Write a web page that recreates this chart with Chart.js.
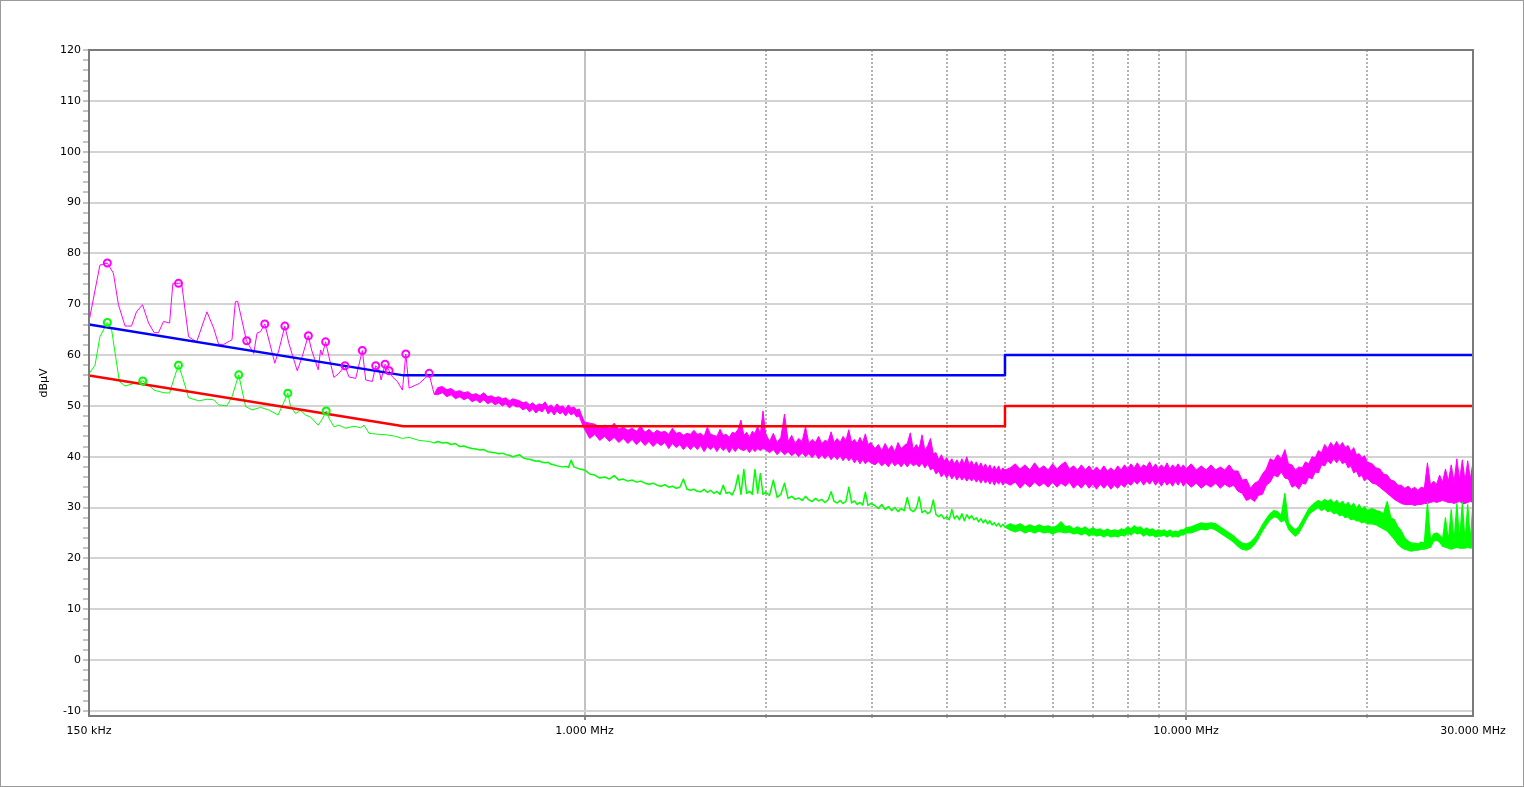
<!DOCTYPE html>
<html><head><meta charset="utf-8">
<script src="https://cdn.jsdelivr.net/npm/chart.js@4/dist/chart.umd.min.js"></script>
<style>
html,body{margin:0;padding:0;background:#fff;}
canvas{display:block;}
</style></head><body>
<canvas id="c" width="1524" height="787"></canvas>
<script>
// ---- axis ticks ----
const xTickValues = [0.15, 1, 2, 3, 4, 5, 6, 7, 8, 9, 10, 20, 30];
const xTickLabels = {'0.15':'150 kHz', '1':'1.000 MHz', '10':'10.000 MHz', '30':'30.000 MHz'};
const xMajorLines = [1, 10];
const yLabelTicks = [-10, 0, 10, 20, 30, 40, 50, 60, 70, 80, 90, 100, 110, 120];
const yMinorStep = 2;

// ---- limit lines (MHz, dBuV) ----
const limitQPFreq = [0.15, 0.5, 5, 5, 30];
const limitQPLevel = [66, 56, 56, 60, 60];
const limitAVFreq = [0.15, 0.5, 5, 5, 30];
const limitAVLevel = [56, 46, 46, 50, 50];

// ---- peak trace, low-frequency part ----
const lowPeakFreq = [0.150,0.1564,0.1609,0.1647,0.1679,0.1722,0.1765,0.1799,0.1841,0.1884,0.1925,0.1957,0.1995,0.2042,0.2068,0.2113,0.2138,0.2196,0.2265,0.2356,0.2417,0.2464,0.2512,0.2593,0.2627,0.2650,0.2741,0.2818,0.2854,0.2892,0.2940,0.2967,0.3055,0.3103,0.3175,0.3224,0.3329,0.3393,0.3472,0.3517,0.3607,0.3640,0.3663,0.3711,0.3758,0.3831,0.3905,0.3996,0.4058,0.4164,0.4271,0.4327,0.4438,0.4496,0.4553,0.4589,0.4660,0.4732,0.4793,0.4885,0.4980,0.5045,0.5109,0.5309,0.5412,0.5517,0.5623];
const lowPeak = [66.6,77.7,78.1,76.1,69.9,65.7,65.7,68.5,69.9,66.3,64.4,64.4,66.6,66.3,74.1,74.1,74.2,63.6,62.6,68.5,65.3,62.1,62.1,63.0,70.5,70.6,62.8,60.3,64.3,64.6,66.1,64.3,58.4,61.0,65.7,62.3,56.9,59.7,63.8,61.0,57.1,61.0,60.0,62.6,59.7,55.6,56.4,57.9,55.7,55.4,60.9,55.1,54.8,57.9,57.1,55.1,58.2,56.9,55.7,54.8,53.1,60.2,53.5,54.4,55.3,56.2,52.3];

// ---- average trace, low-frequency part ----
const lowAvgFreq = [0.150,0.1535,0.1564,0.1609,0.1636,0.1685,0.1722,0.1768,0.1843,0.1884,0.1925,0.1995,0.2042,0.2073,0.2113,0.2149,0.2196,0.2282,0.2356,0.2417,0.2464,0.2543,0.2593,0.2661,0.2731,0.2800,0.2892,0.2985,0.3093,0.3141,0.3211,0.3245,0.3307,0.3371,0.3437,0.3503,0.3607,0.3673,0.3719,0.3758,0.3831,0.3905,0.4007,0.4137,0.4244,0.4299,0.4382,0.4553,0.4693,0.4856,0.4980,0.5109,0.5309,0.5517,0.5623];
const lowAvg = [56.3,58.0,63.6,66.4,64.9,54.8,53.9,54.3,54.9,54.1,53.1,52.6,52.5,55.1,58.0,55.4,51.6,51.0,51.3,51.2,50.2,50.0,51.8,56.1,49.9,49.2,49.7,49.2,48.2,49.9,52.5,49.9,48.5,49.1,48.2,47.8,46.2,47.6,49.0,47.6,45.9,46.2,45.6,46.0,45.7,46.2,44.6,44.4,44.3,44.0,43.6,43.8,43.2,43.0,42.7];

// ---- dense scan frequencies (MHz) ----
const scanFreqA = [0.57,0.58,0.59,0.60,0.61,0.62,0.63,0.64,0.65,0.66,0.67,0.68,0.69,0.70,0.71,0.72,0.73,0.74,0.75,0.76,0.77,0.78,0.79,0.80,0.81,0.82,0.83,0.84,0.85,0.86,0.87,0.88,0.89,0.90,0.91,0.92,0.93,0.94,0.95,0.96,0.97,0.98,0.99,1.00];
const scanFreqB = [1.02,1.04,1.06,1.08,1.10,1.12,1.14,1.16,1.18,1.20,1.22,1.24,1.26,1.28,1.30,1.32,1.34,1.36,1.38,1.40,1.42,1.44,1.46,1.48,1.50,1.52,1.54,1.56,1.58,1.60,1.62,1.64,1.66,1.68,1.70,1.72,1.74,1.76,1.78,1.80,1.82,1.84,1.86,1.88,1.90,1.92,1.94,1.96,1.98,2.00];
const scanFreqC = [2.03,2.06,2.09,2.12,2.15,2.18,2.21,2.24,2.27,2.30,2.33,2.36,2.39,2.42,2.45,2.48,2.51,2.54,2.57,2.60,2.63,2.66,2.69,2.72,2.75,2.78,2.81,2.84,2.87,2.90,2.93,2.96,2.99];
const scanFreqD = [3.04,3.08,3.12,3.16,3.20,3.24,3.28,3.32,3.36,3.40,3.44,3.48,3.52,3.56,3.60,3.64,3.68,3.72,3.76,3.80,3.84,3.88,3.92,3.96,4.00,4.04,4.08,4.12,4.16,4.20,4.24,4.28,4.32,4.36,4.40,4.44,4.48,4.52,4.56,4.60,4.64,4.68,4.72,4.76,4.80,4.84,4.88,4.92,4.96,5.00];
const scanFreqE = [5.1,5.2,5.3,5.4,5.5,5.6,5.7,5.8,5.9,6.0,6.1,6.2,6.3,6.4,6.5,6.6,6.7,6.8,6.9,7.0,7.1,7.2,7.3,7.4,7.5,7.6,7.7,7.8,7.9,8.0,8.1,8.2,8.3,8.4,8.5,8.6,8.7,8.8,8.9,9.0,9.1,9.2,9.3,9.4,9.5,9.6,9.7,9.8,9.9,10.0];
const scanFreqF = [10.2,10.4,10.6,10.8,11.0,11.2,11.4,11.6,11.8,12.0,12.2,12.4,12.6,12.8,13.0,13.2,13.4,13.6,13.8,14.0,14.2,14.4,14.6,14.8,15.0,15.2,15.4,15.6,15.8,16.0,16.2,16.4,16.6,16.8,17.0,17.2,17.4,17.6,17.8,18.0,18.2,18.4,18.6,18.8,19.0,19.2,19.4,19.6,19.8,20.0];
const scanFreqG = [20.4,20.7,21.0,21.3,21.6,21.9,22.2,22.5,22.8,23.1,23.4,23.7,24.0,24.3,24.6,24.9,25.2,25.5,25.8,26.1,26.4,26.7,27.0,27.3,27.6,27.9,28.2,28.5,28.8,29.1,29.4,29.7,30.0];

// ---- peak detector, dense part: upper / lower envelope (dBuV) ----
const peakHiA = [53.6,53.8,53.2,53.4,52.8,53.0,52.6,52.8,52.2,52.4,52.0,52.6,51.8,52.0,51.6,51.8,51.4,51.6,51.0,51.4,51.2,51.0,50.6,50.8,50.2,50.6,50.0,50.4,50.2,50.8,49.8,50.2,49.6,50.4,49.8,50.0,49.4,50.2,49.6,49.8,49.2,49.4,48.0,46.8];
const peakLoA = [52.2,52.6,51.8,52.2,51.4,51.8,51.2,51.6,50.8,51.2,50.6,51.2,50.4,50.8,50.2,50.6,50.0,50.4,49.6,50.2,49.8,49.8,49.2,49.6,48.8,49.4,48.6,49.2,48.8,49.6,48.4,49.0,48.2,49.0,48.4,48.8,48.0,48.8,48.2,48.6,47.8,48.0,46.6,45.4];
const peakHiB = [46.6,46.4,45.8,46.2,45.6,46.6,45.4,45.8,45.2,45.6,45.0,46.0,44.8,45.4,44.6,45.2,44.8,45.0,44.4,45.6,44.6,44.8,44.2,44.6,44.4,45.2,44.4,44.6,44.0,45.8,44.4,44.2,44.0,45.4,44.2,44.4,43.8,44.8,44.6,45.4,47.2,44.2,44.8,43.8,45.0,44.6,46.0,44.4,49.0,44.6];
const peakLoB = [43.6,44.4,43.2,44.0,43.0,43.8,42.8,43.6,42.6,43.4,42.4,43.2,42.2,43.0,42.0,42.8,42.2,42.8,41.6,42.6,41.8,42.4,41.4,42.2,41.4,42.2,41.4,42.2,41.0,42.0,41.4,42.0,41.0,42.0,41.2,41.8,40.8,41.8,41.0,41.8,41.4,41.2,41.6,40.8,41.6,41.0,41.6,41.2,41.6,41.4];
const peakHiC = [43.0,44.6,42.8,43.8,48.4,43.0,44.2,42.6,43.6,43.0,45.9,42.6,43.4,42.8,44.0,42.6,43.2,43.0,44.9,42.8,43.6,42.8,44.0,43.2,45.3,42.8,43.4,42.6,43.8,42.8,44.5,42.4,42.8];
const peakLoC = [40.8,41.4,40.4,41.2,40.4,41.0,40.2,40.8,40.0,40.8,40.0,40.6,39.8,40.6,39.6,40.4,39.6,40.4,39.4,40.2,39.4,40.2,39.2,40.0,39.2,39.8,38.8,39.6,38.6,39.4,38.6,39.2,38.8];
const peakHiD = [41.6,42.4,41.2,42.6,41.4,42.2,41.0,42.8,41.6,42.2,42.6,44.7,41.4,42.4,41.6,44.3,41.2,42.2,43.6,40.6,40.8,39.4,40.4,39.2,39.8,38.8,39.6,38.6,39.4,38.4,39.6,38.6,40.0,38.4,39.2,38.2,39.0,38.0,38.8,37.8,38.6,37.6,38.4,37.4,38.2,37.4,38.2,37.2,37.8,37.4];
const peakLoD = [38.4,39.0,38.2,38.8,38.0,39.0,38.2,38.8,38.0,38.8,38.0,38.8,38.2,38.6,38.0,38.8,37.8,38.6,37.4,37.8,36.6,37.2,36.0,36.8,35.8,36.6,35.6,36.4,35.4,36.2,35.4,36.0,35.2,35.8,35.2,35.8,35.0,35.6,34.8,35.6,34.8,35.4,34.6,35.4,34.4,35.2,34.6,35.2,34.4,35.0];
const peakHiE = [37.8,38.6,37.6,38.4,37.4,38.8,37.6,38.2,37.4,38.6,37.6,38.4,39.0,37.6,38.2,37.4,38.4,37.4,38.2,37.2,38.0,37.2,38.2,37.2,37.8,37.2,38.2,37.4,38.4,37.6,38.6,37.8,38.8,37.8,38.4,38.0,39.0,37.8,38.6,37.6,38.4,37.8,38.8,37.6,38.4,37.8,38.6,37.8,38.4,37.6];
const peakLoE = [34.4,35.0,33.8,34.8,34.0,35.0,34.2,34.8,34.0,35.0,34.0,34.8,34.2,35.0,33.8,34.6,33.8,34.8,33.8,34.6,33.6,34.6,33.8,34.6,33.6,34.4,33.8,34.6,34.0,34.8,34.4,35.2,34.6,35.4,34.4,35.2,34.6,35.4,34.4,35.2,34.2,35.2,34.4,35.0,34.2,35.2,34.4,35.2,34.2,35.0];
const peakHiF = [38.6,37.4,38.2,37.4,38.4,37.4,38.0,37.4,38.4,37.2,37.2,35.4,35.6,33.8,34.8,35.2,36.6,37.6,39.6,39.2,40.4,39.6,41.4,38.6,38.4,37.4,38.0,37.8,39.0,38.6,40.0,39.8,41.2,40.8,42.4,41.6,42.8,42.0,43.0,42.0,42.8,41.8,42.2,41.0,41.8,40.4,40.6,39.8,40.2,39.0];
const peakLoF = [34.0,34.8,33.8,34.6,34.0,34.8,33.8,34.6,34.0,34.4,33.2,32.8,31.4,31.8,31.2,32.4,32.6,34.4,35.0,36.4,36.0,37.0,35.8,35.6,34.0,34.4,33.6,34.8,34.6,36.0,35.6,37.0,36.8,38.4,38.2,39.2,38.6,39.6,38.8,39.6,38.6,39.0,37.8,38.2,36.8,37.2,36.0,36.4,35.2,35.8];
const peakHiG = [38.6,37.8,37.6,36.6,36.4,35.4,35.2,34.4,34.4,33.8,34.2,33.6,34.0,33.4,34.0,33.8,38.8,34.4,35.2,34.6,36.4,35.0,37.6,35.2,38.4,35.0,39.6,35.4,39.4,35.2,39.2,35.6,39.0];
const peakLoG = [34.8,34.6,34.0,33.4,32.8,32.2,31.6,31.2,30.8,30.6,30.6,30.6,30.4,30.6,30.6,30.8,30.8,31.0,31.2,31.0,31.2,31.4,31.2,31.0,31.0,30.8,31.0,31.2,30.8,30.8,31.0,31.2,31.0];

// ---- average detector, dense part below 5 MHz (dBuV) ----
const avgA = [43.0,42.7,42.8,42.4,42.6,42.0,42.1,41.8,41.6,41.5,41.3,41.4,41.0,40.9,40.8,40.6,40.7,40.4,40.3,40.0,40.2,40.4,39.8,39.6,39.5,39.3,39.1,39.2,38.9,38.8,38.9,38.5,38.4,38.2,38.1,38.0,38.1,37.9,39.3,38.0,37.8,37.6,37.5,37.4];
const avgB = [36.6,36.4,35.8,36.0,35.6,36.3,35.4,35.6,35.2,35.4,35.0,35.2,34.8,34.6,34.8,34.4,34.2,34.5,34.0,34.2,33.8,34.0,35.6,33.6,33.4,33.6,33.2,33.1,33.6,33.0,33.4,32.8,33.2,32.6,34.4,32.8,33.0,32.5,33.8,36.4,32.6,37.5,32.8,33.2,32.6,37.5,32.8,36.7,32.6,33.0];
const avgC = [32.4,35.4,32.0,32.6,34.8,31.8,32.2,31.6,31.9,31.4,32.2,31.5,31.2,31.8,31.3,31.6,31.0,31.5,33.1,31.2,30.9,31.4,30.8,31.2,34.0,30.9,31.3,30.6,31.0,30.5,33.0,30.4,30.8];
const avgD = [30.4,29.8,30.6,29.6,30.2,29.4,30.0,29.2,29.8,29.4,32.0,29.6,29.2,29.8,32.1,29.0,29.4,28.8,29.2,31.5,28.6,28.2,28.6,27.8,28.2,27.6,29.6,27.8,28.4,27.6,28.8,27.4,28.6,27.8,28.4,27.6,28.0,27.2,27.8,27.0,27.6,26.8,27.4,26.6,27.0,26.4,26.9,26.2,26.7,26.2];

// ---- average detector above 5 MHz: upper / lower envelope (dBuV) ----
const avgHiE = [26.8,26.4,26.8,26.2,26.6,26.2,26.6,26.2,26.4,26.0,26.4,27.2,26.2,26.4,25.8,26.2,25.8,26.2,25.6,26.0,25.6,25.8,25.4,25.8,25.4,25.6,25.4,25.8,25.6,26.2,25.8,26.4,26.0,26.2,25.6,26.0,25.6,25.8,25.4,25.6,25.4,25.6,25.2,25.6,25.2,25.4,25.2,25.6,25.6,26.0];
const avgLoE = [25.6,25.2,25.6,25.0,25.4,25.0,25.4,25.0,25.2,24.8,25.2,25.2,25.0,25.2,24.8,25.0,24.6,25.0,24.4,24.8,24.4,24.6,24.2,24.6,24.2,24.4,24.2,24.6,24.4,25.0,24.6,25.2,24.8,25.0,24.4,24.8,24.4,24.6,24.2,24.4,24.4,24.6,24.2,24.6,24.2,24.4,24.2,24.6,24.6,25.0];
const avgHiF = [26.2,26.6,27.0,26.8,27.0,26.8,26.2,25.6,25.0,24.4,23.6,23.0,22.8,23.2,24.0,25.2,26.6,27.8,28.8,29.4,29.2,28.4,32.8,27.0,26.2,25.6,26.2,27.4,28.6,29.8,30.4,31.0,31.4,31.0,31.6,31.2,31.6,30.8,31.4,30.6,31.2,30.4,31.0,30.2,30.8,29.8,30.6,29.6,30.2,29.4];
const avgLoF = [25.0,25.4,25.8,25.6,26.0,25.6,25.0,24.4,23.8,23.2,22.4,21.8,21.6,22.0,22.8,24.0,25.4,26.6,27.6,28.2,28.0,27.2,27.6,25.8,25.0,24.4,25.0,26.2,27.4,28.6,29.2,29.6,30.0,29.4,29.8,29.2,29.4,28.8,29.0,28.4,28.6,28.0,28.2,27.6,27.8,27.4,27.4,27.0,27.2,26.8];
const avgHiG = [29.8,29.4,29.2,28.8,31.2,28.0,27.6,26.2,25.4,24.0,23.4,23.0,23.0,22.8,23.2,23.0,31.0,23.6,24.8,25.0,24.6,23.8,28.0,23.4,29.6,23.2,30.8,23.4,31.0,23.2,30.6,23.4,31.0];
const avgLoG = [26.8,26.6,26.2,25.8,25.4,24.6,23.8,22.8,22.2,21.8,21.6,21.4,21.6,21.6,21.8,21.8,22.0,22.2,23.4,23.6,23.2,22.4,22.2,22.0,21.8,22.0,22.2,22.0,22.0,22.0,22.2,22.0,22.2];

// ---- final measurement markers ----
const qpFreq = [0.1609,0.2113,0.2744,0.2940,0.3175,0.3474,0.3711,0.3996,0.4271,0.4496,0.4660,0.4732,0.5045,0.5517];
const qpLevel = [78.1,74.1,62.8,66.1,65.7,63.8,62.6,57.9,60.9,57.9,58.2,56.9,60.2,56.4];
const avFreq = [0.1609,0.1843,0.2113,0.2661,0.3211,0.3719];
const avLevel = [66.4,54.9,58.0,56.1,52.5,49.0];

// ---- build ----
const pts = (f, v) => f.map((x, i) => ({x, y: v[i]}));
const lastOf = (f, v) => ({x: f[f.length - 1], y: v[v.length - 1]});
const peakFreq = [...scanFreqA, ...scanFreqB, ...scanFreqC, ...scanFreqD, ...scanFreqE, ...scanFreqF, ...scanFreqG];
const peakHi = [...peakHiA, ...peakHiB, ...peakHiC, ...peakHiD, ...peakHiE, ...peakHiF, ...peakHiG];
const peakLo = [...peakLoA, ...peakLoB, ...peakLoC, ...peakLoD, ...peakLoE, ...peakLoF, ...peakLoG];
const avgLineFreq = [...scanFreqA, ...scanFreqB, ...scanFreqC, ...scanFreqD];
const avgLine = [...avgA, ...avgB, ...avgC, ...avgD];
const avgBandFreq = [...scanFreqE, ...scanFreqF, ...scanFreqG];
const avgHi = [...avgHiE, ...avgHiF, ...avgHiG];
const avgLo = [...avgLoE, ...avgLoF, ...avgLoG];

const MAG = '#ff00ff', GRN = '#00ff00', BLU = '#0000ff', RED = '#ff0000';
const FONT = "'DejaVu Sans', Verdana, sans-serif";

const framePlugin = {
  id: 'frame',
  afterDraw(chart) {
    const {ctx, chartArea: a} = chart;
    ctx.save();
    ctx.strokeStyle = '#7a7a7a';
    ctx.lineWidth = 2;
    ctx.strokeRect(a.left, a.top, a.right - a.left, a.bottom - a.top);
    ctx.strokeStyle = '#9a9a9a';
    ctx.lineWidth = 1;
    ctx.strokeRect(0.5, 0.5, chart.width - 1, chart.height - 1);
    ctx.restore();
  }
};

const isMajorX = v => xMajorLines.includes(v);
const isEdgeX = v => v === 0.15 || v === 30;
const peakJoin = lastOf(lowPeakFreq, lowPeak);
const avgJoin = lastOf(lowAvgFreq, lowAvg);
const avgBandJoin = lastOf(avgLineFreq, avgLine);

new Chart(document.getElementById('c'), {
  type: 'line',
  data: {
    datasets: [
      {data: pts(qpFreq, qpLevel), showLine: false, pointRadius: 3.5, pointBorderWidth: 2,
       pointBorderColor: MAG, pointBackgroundColor: 'rgba(255,255,255,0)', order: 0},
      {data: pts(avFreq, avLevel), showLine: false, pointRadius: 3.5, pointBorderWidth: 2,
       pointBorderColor: GRN, pointBackgroundColor: 'rgba(255,255,255,0)', order: 0},
      {data: pts(limitQPFreq, limitQPLevel), borderColor: BLU, borderWidth: 2.5, pointRadius: 0, order: 1},
      {data: pts(limitAVFreq, limitAVLevel), borderColor: RED, borderWidth: 2.5, pointRadius: 0, order: 1},
      {data: pts(lowPeakFreq, lowPeak), borderColor: MAG, borderWidth: 1, pointRadius: 0, order: 3},
      {data: [peakJoin, ...pts(peakFreq, peakHi)], borderColor: MAG, backgroundColor: MAG, borderWidth: 1, pointRadius: 0, fill: '+1', order: 3},
      {data: [peakJoin, ...pts(peakFreq, peakLo)], borderColor: MAG, borderWidth: 1, pointRadius: 0, order: 3},
      {data: pts(lowAvgFreq, lowAvg), borderColor: GRN, borderWidth: 1, pointRadius: 0, order: 2},
      {data: [avgJoin, ...pts(avgLineFreq, avgLine)], borderColor: GRN, borderWidth: 1.5, pointRadius: 0, order: 2},
      {data: [avgBandJoin, ...pts(avgBandFreq, avgHi)], borderColor: GRN, backgroundColor: GRN, borderWidth: 1.2, pointRadius: 0, fill: '+1', order: 2},
      {data: [avgBandJoin, ...pts(avgBandFreq, avgLo)], borderColor: GRN, borderWidth: 1.2, pointRadius: 0, order: 2}
    ]
  },
  options: {
    responsive: false,
    animation: false,
    devicePixelRatio: 1,
    layout: {padding: {left: 0, right: 51, top: 50, bottom: 0}},
    plugins: {legend: {display: false}, tooltip: {enabled: false}},
    elements: {line: {tension: 0, borderJoinStyle: 'round'}},
    scales: {
      x: {
        type: 'logarithmic', min: 0.15, max: 30,
        afterBuildTicks: s => { s.ticks = xTickValues.map(v => ({value: v})); },
        afterFit: s => { s.height = 71; },
        ticks: {
          autoSkip: false, maxRotation: 0, minRotation: 0, color: '#000', padding: 5,
          font: {family: FONT, size: 11},
          callback: v => xTickLabels[String(v)] ?? ''
        },
        grid: {
          color: c => isEdgeX(c.tick.value) ? 'rgba(0,0,0,0)' : (isMajorX(c.tick.value) ? '#c2c2c2' : '#b4b4b4'),
          lineWidth: 2,
          tickLength: 4,
          tickWidth: 2,
          tickColor: c => isEdgeX(c.tick.value) ? 'rgba(0,0,0,0)' : (isMajorX(c.tick.value) ? '#8a8a8a' : '#b4b4b4'),
          tickBorderDash: c => isMajorX(c.tick.value) ? [] : [2, 2]
        },
        border: {display: false, dash: c => isMajorX(c.tick.value) ? [] : [2, 2]}
      },
      y: {
        min: -11, max: 120,
        afterBuildTicks: s => {
          const t = [];
          for (let v = yLabelTicks[0]; v <= yLabelTicks[yLabelTicks.length - 1]; v += yMinorStep) t.push({value: v});
          s.ticks = t;
        },
        afterFit: s => { s.width = 89; },
        ticks: {
          autoSkip: false, color: '#000', padding: 2,
          font: {family: FONT, size: 11},
          callback: v => yLabelTicks.includes(v) ? String(v) : ''
        },
        grid: {
          color: c => yLabelTicks.includes(c.tick.value) ? '#d3d3d3' : 'rgba(0,0,0,0)',
          lineWidth: 2,
          tickLength: 6,
          tickWidth: 2,
          tickColor: '#c4c4c4'
        },
        border: {display: false},
        title: {display: true, text: 'dBµV', color: '#000', font: {family: FONT, size: 11}, padding: {top: 38, bottom: 0}}
      }
    }
  },
  plugins: [framePlugin]
});
</script>
</body></html>
